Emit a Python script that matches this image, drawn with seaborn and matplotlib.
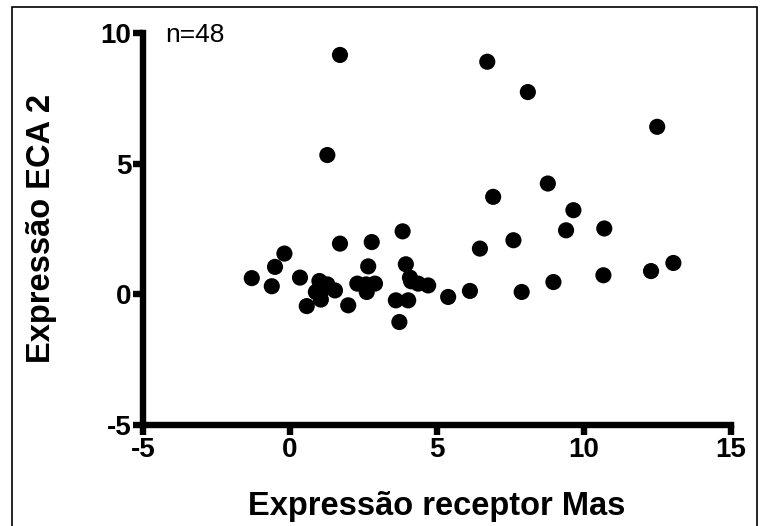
import matplotlib
matplotlib.use("Agg")
import matplotlib.pyplot as plt
import seaborn as sns
import pandas as pd
from matplotlib.patches import Rectangle

# Data
mas_expr = [-1.30, -0.62, -0.51, -0.19, 0.34, 1.00, 1.27, 0.88, 1.05, 1.53,
            0.57, 1.70, 1.98, 2.78, 2.66, 2.29, 2.61, 2.89, 3.94, 4.08,
            4.36, 4.70, 3.60, 4.02, 3.72, 3.83, 5.38, 6.12, 6.46, 7.60,
            6.91, 7.88, 8.96, 8.77, 9.64, 9.39, 10.69, 10.66, 12.28, 13.04,
            6.71, 8.09, 12.49, 1.70, 1.27, 2.59, 1.12, 4.12]
eca2_expr = [0.62, 0.31, 1.05, 1.56, 0.64, 0.51, 0.38, 0.09, -0.20, 0.15,
             -0.45, 1.94, -0.42, 2.00, 1.07, 0.41, 0.09, 0.41, 1.15, 0.64,
             0.41, 0.34, -0.23, -0.23, -1.06, 2.41, -0.10, 0.13, 1.75, 2.07,
             3.73, 0.09, 0.47, 4.24, 3.22, 2.45, 2.52, 0.73, 0.89, 1.20,
             8.90, 7.74, 6.41, 9.16, 5.33, 0.38, 0.19, 0.50]
x_ticks = [-5, 0, 5, 10, 15]
y_ticks = [-5, 0, 5, 10]

df = pd.DataFrame({"mas": mas_expr, "eca2": eca2_expr})

sns.set_theme(style="white")
plt.rcParams['font.family'] = ['Liberation Sans', 'DejaVu Sans']

fig = plt.figure(figsize=(7.71, 5.26), dpi=100)
ax = fig.add_axes([143/771, 1 - 425/526, (731 - 143)/771, (425 - 33)/526])

sns.scatterplot(data=df, x="mas", y="eca2", ax=ax, color="black", s=135,
                edgecolor="none", linewidth=0, clip_on=False)

ax.set_xlim(-5, 15)
ax.set_ylim(-5, 10)
ax.set_xticks(x_ticks)
ax.set_yticks(y_ticks)
ax.set_xticklabels([str(t) for t in x_ticks])
ax.set_yticklabels([str(t) for t in y_ticks])

for side in ["top", "right"]:
    ax.spines[side].set_visible(False)
for side in ["left", "bottom"]:
    ax.spines[side].set_linewidth(4.6)
    ax.spines[side].set_color("black")
    ax.spines[side].set_capstyle("projecting")

ax.tick_params(axis="both", which="major", length=7.5, width=4.6, color="black",
               direction="out", left=True, bottom=True, pad=1.0)
for lab in ax.get_xticklabels() + ax.get_yticklabels():
    lab.set_fontsize(20)
    lab.set_fontweight("bold")
    lab.set_color("black")

ax.set_xlabel("Expressão receptor Mas", fontsize=23.5, fontweight="bold", labelpad=20, color="black")
ax.set_ylabel("Expressão ECA 2", fontsize=23.5, fontweight="bold", labelpad=31, color="black")

ax.text(0.038, 0.995, "n=48", transform=ax.transAxes, fontsize=19, color="black",
        ha="left", va="center")

fig.patches.append(Rectangle((12/771, -0.05), (757 - 12)/771, 1.05 - 7/526,
                             transform=fig.transFigure, fill=False,
                             edgecolor="black", linewidth=1.2))

fig.savefig("out.png", dpi=100)
